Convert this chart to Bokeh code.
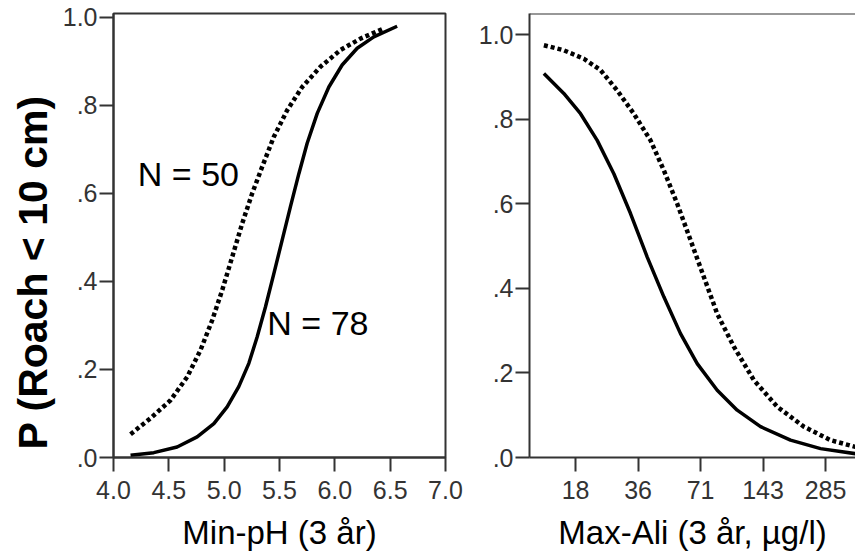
from bokeh.plotting import figure
from bokeh.models import Range1d, FixedTicker, Label, Span, Title
from bokeh.layouts import row
from bokeh.embed import file_html
from bokeh.resources import INLINE

# ---------------- data ----------------
# Left panel: probability vs Min-pH
ph_n78_x = [4.154, 4.364, 4.575, 4.756, 4.907, 5.027, 5.132, 5.223, 5.298, 5.373, 5.449,
            5.524, 5.599, 5.675, 5.750, 5.841, 5.946, 6.066, 6.202, 6.352, 6.563]
ph_n78_y = [0.005, 0.011, 0.024, 0.047, 0.077, 0.115, 0.161, 0.214, 0.274, 0.342, 0.418,
            0.494, 0.570, 0.645, 0.714, 0.782, 0.842, 0.892, 0.930, 0.956, 0.980]
ph_n50_x = [4.154, 4.334, 4.515, 4.666, 4.786, 4.892, 4.982, 5.073, 5.163, 5.253, 5.344,
            5.449, 5.569, 5.705, 5.870, 6.051, 6.232, 6.442]
ph_n50_y = [0.053, 0.089, 0.130, 0.183, 0.244, 0.312, 0.380, 0.456, 0.532, 0.600, 0.661,
            0.729, 0.789, 0.842, 0.888, 0.926, 0.952, 0.975]

# Right panel: probability vs Max-Ali (log scale)
ali_n78_x = [12.54, 15.64, 18.83, 22.65, 27.24, 32.78, 39.45, 47.43, 57.07, 68.67, 85.73,
             107.0, 138.6, 193.3, 269.7, 397.4]
ali_n78_y = [0.908, 0.861, 0.813, 0.750, 0.671, 0.577, 0.474, 0.380, 0.293, 0.222, 0.159,
             0.112, 0.073, 0.041, 0.021, 0.009]
ali_n50_x = [12.54, 15.64, 19.54, 23.51, 28.28, 34.01, 40.92, 47.43, 55.02, 63.77, 73.92,
             85.73, 103.1, 128.7, 166.8, 224.1, 301.2, 397.4]
ali_n50_y = [0.975, 0.963, 0.943, 0.916, 0.868, 0.813, 0.750, 0.679, 0.600, 0.514, 0.427,
             0.340, 0.262, 0.183, 0.120, 0.073, 0.041, 0.025]

ph_ticks = [4.0, 4.5, 5.0, 5.5, 6.0, 6.5, 7.0]
ph_tick_labels = ["4.0", "4.5", "5.0", "5.5", "6.0", "6.5", "7.0"]
ali_ticks = [17.8125, 35.625, 71.25, 142.5, 285.0]
ali_tick_labels = ["18", "36", "71", "143", "285"]
p_ticks = [0.0, 0.2, 0.4, 0.6, 0.8, 1.0]
p_tick_labels = [".0", ".2", ".4", ".6", ".8", "1.0"]

y_title = "P (Roach < 10 cm)"
x_title_left = "Min-pH (3 år)"
x_title_right = "Max-Ali (3 år, µg/l)"
ann_50 = "N = 50"
ann_78 = "N = 78"

FONT = "Liberation Sans"
AX = "#333333"


def style_axes(p, xticks, xlabels, xtitle):
    p.grid.visible = False
    p.background_fill_color = "white"
    p.border_fill_color = "white"
    for ax in p.xaxis:
        ax.ticker = FixedTicker(ticks=xticks)
        ax.major_label_overrides = {t: l for t, l in zip(xticks, xlabels)}
        ax.axis_label = xtitle
        ax.axis_label_text_font = FONT
        ax.axis_label_text_font_size = "33px"
        ax.axis_label_text_font_style = "normal"
        ax.axis_label_text_color = "black"
        ax.axis_label_standoff = 12
    for ax in p.yaxis:
        ax.ticker = FixedTicker(ticks=p_ticks)
        ax.major_label_overrides = {t: l for t, l in zip(p_ticks, p_tick_labels)}
    for ax in list(p.xaxis) + list(p.yaxis):
        ax.axis_line_color = AX
        ax.axis_line_width = 2
        ax.major_tick_line_color = AX
        ax.major_tick_line_width = 2
        ax.major_tick_out = 14
        ax.major_tick_in = 0
        ax.minor_tick_line_color = None
        ax.major_label_text_font = FONT
        ax.major_label_text_font_size = "25px"
        ax.major_label_text_color = "#333333"
    for ax in p.xaxis:
        ax.major_label_standoff = 9
    for ax in p.yaxis:
        ax.major_label_standoff = 2


# ---------------- left panel ----------------
p1 = figure(width=466, height=555, x_range=Range1d(4.0, 7.0), y_range=Range1d(0.0, 1.009),
            output_backend="svg", toolbar_location=None,
            min_border_left=113, min_border_right=21, min_border_top=13, min_border_bottom=98)
style_axes(p1, ph_ticks, ph_tick_labels, x_title_left)
p1.outline_line_color = AX
p1.outline_line_width = 2
p1.outline_line_alpha = 1.0

p1.line(ph_n50_x, ph_n50_y, line_color="black", line_width=4.5, line_dash="4 3")
p1.line(ph_n78_x, ph_n78_y, line_color="black", line_width=3.5)

p1.add_layout(Label(x=4.22, y=0.645, text=ann_50, text_font=FONT, text_font_size="34px",
                    text_color="black", text_baseline="middle", text_align="left"))
p1.add_layout(Label(x=5.39, y=0.305, text=ann_78, text_font=FONT, text_font_size="34px",
                    text_color="black", text_baseline="middle", text_align="left"))
p1.add_layout(Title(text=y_title, align="left", offset=8, standoff=8,
                    text_font=FONT, text_font_size="41px", text_font_style="bold",
                    text_color="black"), "left")

# ---------------- right panel ----------------
p2 = figure(width=389, height=555, x_axis_type="log", x_range=Range1d(10.69, 397.4),
            y_range=Range1d(0.0, 1.05), output_backend="svg", toolbar_location=None,
            min_border_left=63, min_border_right=0, min_border_top=13, min_border_bottom=98)
style_axes(p2, ali_ticks, ali_tick_labels, x_title_right)
p2.outline_line_color = None
p2.add_layout(Span(location=1.05, dimension="width", line_color=AX, line_width=2))

p2.line(ali_n50_x, ali_n50_y, line_color="black", line_width=4.5, line_dash="4 3")
p2.line(ali_n78_x, ali_n78_y, line_color="black", line_width=3.5)

layout = row(p1, p2)
open("out.html", "w").write(file_html(layout, INLINE))
